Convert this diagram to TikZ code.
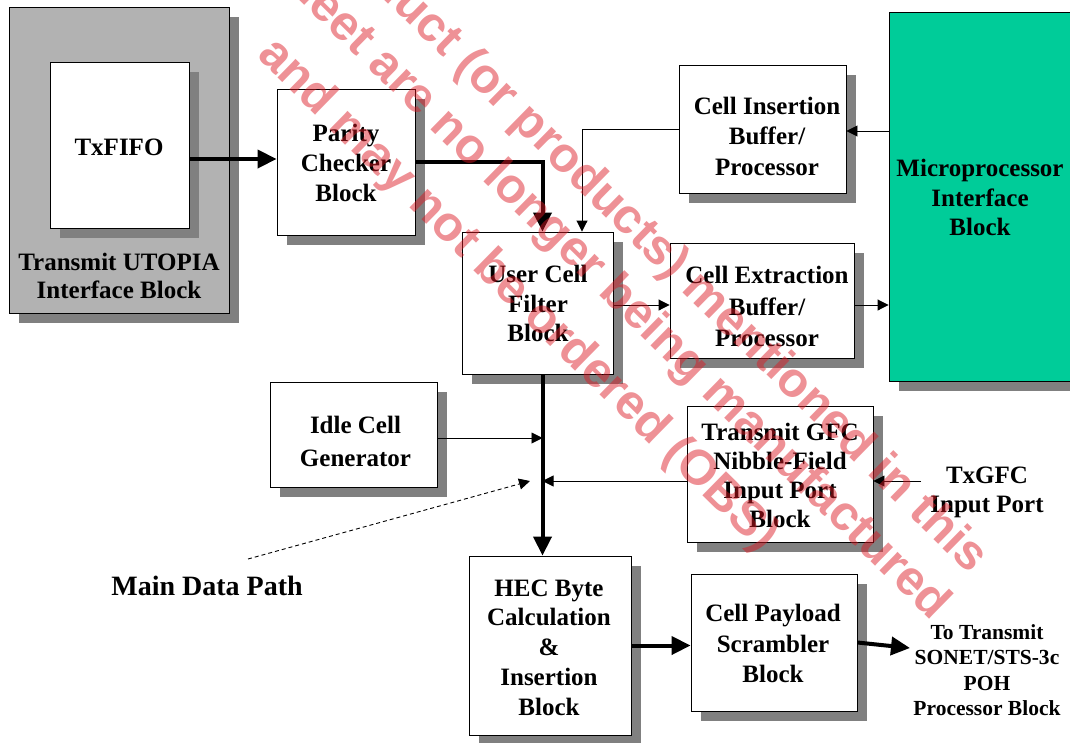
\documentclass[tikz,border=0pt]{standalone}
\usepackage{fontspec}
\setmainfont{Liberation Serif}
\newfontfamily\wmfont{Liberation Sans}
\usetikzlibrary{arrows.meta,shadows}
\definecolor{shadowgray}{RGB}{128,128,128}
\definecolor{utopiagray}{RGB}{178,178,178}
\definecolor{microgreen}{RGB}{0,204,153}
\definecolor{wmred}{RGB}{220,25,35}
\begin{document}
\begin{tikzpicture}[x=1pt,y=-1pt,
  box/.style={draw=black, line width=0.9pt, fill=white, inner sep=0pt,
    general shadow={fill=shadowgray, shadow xshift=10pt, shadow yshift=-10pt}},
  lbl/.style={font={\bfseries\fontsize{25}{29.8}\selectfont}, align=center, inner sep=0pt},
  thickarrow/.style={line width=4pt, -{Triangle[length=19pt,width=18pt]}},
  thinarrow/.style={line width=0.9pt, -{Triangle[length=11pt,width=11pt]}},
  dasharrow/.style={line width=0.9pt, dash pattern=on 4pt off 3pt, -{Triangle[length=11pt,width=11pt]}},
  wm/.style={font={\wmfont\bfseries\fontsize{49}{62.6}\selectfont}, text=wmred, text opacity=0.48,
    rotate=-44.5, anchor=base east, inner sep=0pt}]
\useasboundingbox (0,0) rectangle (1070,742);
\clip (0,0) rectangle (1070,742);

% boxes
\node[box, fill=utopiagray, minimum width=220pt, minimum height=306pt] (utopia) at (119,160) {};
\node[box, minimum width=139pt, minimum height=166pt] (txfifo) at (119.5,145) {};
\node[box, minimum width=138pt, minimum height=146pt] (parity) at (346,162) {};
\node[box, minimum width=167pt, minimum height=128pt] (cib) at (762.5,129) {};
\node[box, fill=microgreen, minimum width=201pt, minimum height=369pt] (micro) at (989.5,196.5) {};
\node[box, minimum width=151pt, minimum height=142pt] (ucf) at (537.5,303) {};
\node[box, minimum width=184pt, minimum height=115pt] (ceb) at (762,300.5) {};
\node[box, minimum width=167pt, minimum height=105pt] (idle) at (353.5,434.5) {};
\node[box, minimum width=186pt, minimum height=136pt] (gfc) at (780,474) {};
\node[box, minimum width=162pt, minimum height=179pt] (hec) at (550,645.5) {};
\node[box, minimum width=166pt, minimum height=137pt] (payload) at (774,642.5) {};

% labels
\node[lbl] (txfifoT) at (119,147) {TxFIFO};
\node[lbl, font={\bfseries\fontsize{25}{27.5}\selectfont}] (utopiaT) at (119,276) {Transmit UTOPIA\\Interface Block};
\node[lbl] (parityT) at (346,163) {Parity\\Checker\\Block};
\node[lbl, font={\bfseries\fontsize{25}{30.5}\selectfont}] (cibT) at (767,136) {Cell Insertion\\Buffer/\\Processor};
\node[lbl] (microT) at (980,197.5) {Microprocessor\\Interface\\Block};
\node[lbl] (ucfT) at (538,303.5) {User Cell\\Filter\\Block};
\node[lbl, font={\bfseries\fontsize{25}{31.5}\selectfont}] (cebT) at (767,306.5) {Cell Extraction\\Buffer/\\Processor};
\node[lbl, font={\bfseries\fontsize{25}{33}\selectfont}] (idleT) at (355.5,441.5) {Idle Cell\\Generator};
\node[lbl, font={\bfseries\fontsize{25}{29}\selectfont}] (gfcT) at (780,475.5) {Transmit GFC\\Nibble-Field\\Input Port\\Block};
\node[lbl, font={\bfseries\fontsize{25}{29}\selectfont}] (txgfcT) at (987,492) {TxGFC\\Input Port};
\node[lbl] (hecT) at (549,647.5) {HEC Byte\\Calculation\\\&\\Insertion\\Block};
\node[lbl, font={\bfseries\fontsize{25}{30.5}\selectfont}] (payloadT) at (773,643.5) {Cell Payload\\Scrambler\\Block};
\node[lbl, font={\bfseries\fontsize{28}{33}\selectfont}] (mdpT) at (207,586.3) {Main Data Path};
\node[lbl, font={\bfseries\fontsize{21.5}{25.3}\selectfont}] (toT) at (987,670) {To Transmit\\SONET/STS-3c\\POH\\Processor Block};

% connectors
\coordinate (bustop) at ([xshift=5pt]ucf.south);
\draw[thickarrow] ([yshift=-14pt]txfifo.east) -- ([yshift=-14pt]txfifo.east -| parity.west);
\draw[thickarrow] (parity.east) -| (bustop |- ucf.north);
\draw[thinarrow] (cib.west) -| ([xshift=44.5pt]ucf.north);
\draw[thinarrow] ([yshift=-2pt]micro.west |- cib.east) -- ([yshift=-2pt]cib.east);
\draw[thinarrow] ([yshift=-2pt]ucf.east) -- ([yshift=-2pt]ucf.east -| ceb.west);
\draw[thinarrow] ([yshift=-4.5pt]ceb.east) -- ([yshift=-4.5pt]ceb.east -| micro.west);
\draw[thickarrow] (bustop) -- (bustop |- hec.north);
\draw[thinarrow] ([yshift=-3.5pt]idle.east) -- ([yshift=-3.5pt]idle.east -| bustop);
\draw[thinarrow] ([yshift=-7pt]gfc.west) -- ([yshift=-7pt]gfc.west -| bustop);
\coordinate (gfcin) at (921,481);
\draw[thinarrow] (gfcin) -- (gfcin -| gfc.east);
\coordinate (mdpstart) at (248,559);
\coordinate (mdpend) at (530,481);
\draw[dasharrow] (mdpstart) -- (mdpend);
\draw[thickarrow] (hec.east) -- (hec.east -| payload.west);
\coordinate (totip) at (910,648);
\draw[thickarrow] (payload.east) -- (totip);

% watermark
\node[wm] (wm1) at (970,575) {This product (or products) mentioned in this};
\node[wm] (wm2) at (932,622) {data sheet are no longer being manufactured};
\node[wm] (wm3) at (761,553) {and may not be ordered (OBS)};
\end{tikzpicture}
\end{document}
